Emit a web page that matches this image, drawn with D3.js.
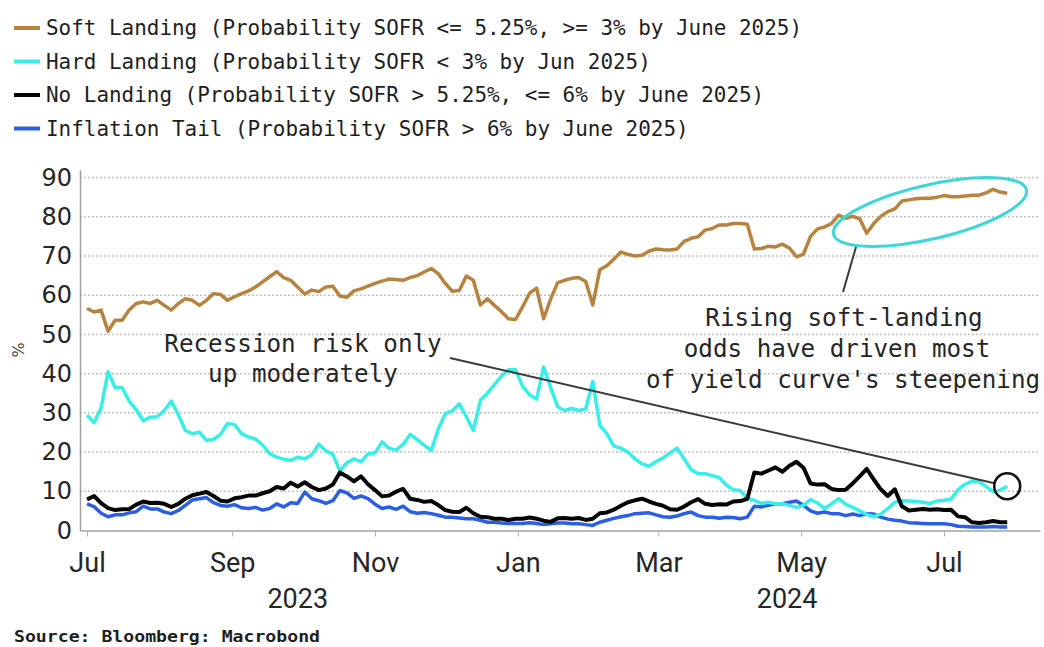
<!DOCTYPE html>
<html>
<head>
<meta charset="utf-8">
<script src="https://cdn.jsdelivr.net/npm/d3@7"></script>
<style>
  body { margin: 0; background: #fff; }
  svg { display: block; }
</style>
</head>
<body>
<svg id="chart" width="1044" height="647"></svg>
<script>
// Observations every 3 calendar days starting 1 Jul 2023 (probabilities, %)
const startDate = new Date(2023, 6, 1);
const stepDays = 3;

const softLanding = [
  56.6, 55.7, 56.2, 50.8, 53.6, 53.6, 56.2, 57.9, 58.3, 57.9,
  58.7, 57.4, 56.2, 57.9, 59.1, 58.7, 57.4, 58.7, 60.4, 60.2,
  58.7, 59.6, 60.4, 61.1, 62.1, 63.4, 64.7, 66.0, 64.5, 63.8,
  62.0, 60.3, 61.3, 60.9, 62.1, 62.3, 59.8, 59.5, 61.1, 61.6,
  62.3, 63.0, 63.6, 64.1, 64.0, 63.8, 64.5, 65.0, 65.9, 66.8,
  65.5, 63.0, 61.0, 61.2, 64.9, 63.8, 57.5, 59.1, 57.4, 55.8,
  54.0, 53.8, 57.0, 60.5, 61.8, 54.0, 59.0, 63.2, 63.8, 64.3,
  64.5, 63.5, 57.5, 66.5, 67.5, 69.2, 71.0, 70.4, 70.0, 70.2,
  71.2, 71.8, 71.6, 71.5, 71.8, 73.7, 74.5, 74.9, 76.6, 77.0,
  77.9, 77.9, 78.3, 78.3, 78.1, 71.8, 71.9, 72.5, 72.3, 73.0,
  72.0, 69.8, 70.5, 75.0, 76.9, 77.4, 78.3, 80.4, 79.6, 80.1,
  79.5, 75.8, 78.3, 80.1, 81.3, 82.0, 84.0, 84.3, 84.6, 84.7,
  84.7, 85.0, 85.4, 85.1, 85.1, 85.3, 85.5, 85.5, 86.1, 87.0,
  86.3, 86.0
];

const hardLanding = [
  29.4, 27.5, 31.3, 40.5, 36.4, 36.4, 33.0, 30.8, 28.0, 28.9,
  29.0, 30.6, 33.0, 29.5, 25.5, 24.7, 25.1, 23.0, 23.2, 24.5,
  27.3, 27.0, 24.7, 23.8, 23.3, 21.8, 19.6, 18.7, 18.2, 17.9,
  18.7, 18.3, 19.3, 22.0, 20.3, 19.4, 15.2, 17.3, 18.3, 17.5,
  19.5, 19.8, 22.6, 21.0, 20.5, 22.0, 24.5, 23.2, 21.8, 20.4,
  25.8, 29.8, 30.5, 32.3, 29.0, 25.5, 33.2, 35.0, 37.2, 39.4,
  41.0, 41.0, 36.8, 34.6, 33.5, 41.7, 36.5, 31.5, 30.6, 31.1,
  30.6, 31.0, 38.0, 26.8, 24.7, 21.5, 21.0, 20.0, 18.3, 17.0,
  16.4, 17.6, 18.5, 19.8, 21.0, 18.3, 15.5, 14.5, 14.5, 14.0,
  13.5, 11.6, 10.4, 10.2, 8.2, 7.7, 6.9, 7.2, 6.8, 6.8,
  6.4, 5.9, 6.4, 7.9, 7.0, 5.6, 6.8, 8.1, 6.7, 5.9,
  5.0, 4.1, 3.5, 4.2, 5.6, 7.2, 7.6, 7.5, 7.4, 7.2,
  6.9, 7.5, 7.7, 8.0, 10.4, 11.8, 12.6, 12.5, 11.2, 9.9,
  10.3, 11.3
];

const noLanding = [
  7.9, 8.8, 7.0, 5.7, 5.2, 5.4, 5.5, 6.6, 7.4, 7.0,
  7.1, 6.8, 6.0, 6.8, 8.1, 9.0, 9.4, 9.8, 8.8, 7.6,
  7.4, 8.2, 8.5, 8.9, 8.9, 9.5, 10.0, 11.1, 10.7, 12.2,
  11.2, 12.3, 11.1, 10.3, 10.7, 11.7, 14.8, 13.8, 12.5, 13.8,
  11.8, 10.3, 8.7, 8.9, 9.9, 10.6, 8.1, 7.8, 7.3, 7.5,
  6.5, 5.2, 4.8, 4.7, 5.8, 4.4, 3.5, 3.4, 3.0, 3.0,
  2.7, 3.0, 3.0, 3.3, 3.0, 2.5, 2.2, 3.1, 3.2, 3.0,
  3.2, 2.7, 3.0, 4.4, 4.6, 5.3, 6.3, 7.2, 7.7, 8.1,
  7.4, 6.8, 6.3, 5.4, 5.3, 6.1, 7.2, 8.0, 6.8, 6.5,
  6.7, 6.6, 7.4, 7.5, 8.1, 14.8, 14.5, 15.3, 16.1, 15.0,
  16.5, 17.5, 16.0, 12.0, 11.7, 11.8, 10.6, 10.3, 10.4, 12.0,
  13.8, 15.7, 13.0, 10.5, 8.8, 10.5, 6.2, 5.1, 5.3, 5.5,
  5.3, 5.4, 5.2, 5.3, 3.6, 3.4, 2.1, 1.9, 2.1, 2.4,
  2.1, 2.1
];

const inflationTail = [
  6.8, 6.1, 4.4, 3.5, 4.0, 4.0, 4.5, 4.8, 6.2, 5.5,
  5.5, 4.7, 4.3, 5.1, 6.4, 7.8, 8.1, 8.4, 7.1, 6.4,
  6.2, 6.6, 5.8, 5.6, 5.9, 5.2, 5.6, 6.8, 6.0, 7.1,
  6.9, 9.8, 8.1, 7.6, 6.9, 7.6, 10.2, 9.6, 8.2, 8.8,
  8.1, 6.7, 5.6, 6.0, 5.4, 6.2, 4.8, 4.4, 4.6, 4.3,
  3.9, 3.4, 3.4, 3.2, 3.0, 3.0, 2.6, 2.1, 2.1, 1.9,
  1.8, 1.8, 1.8, 2.0, 1.8, 1.5, 1.7, 1.9, 1.9, 1.7,
  1.7, 1.5, 1.3, 2.1, 2.6, 3.1, 3.5, 3.8, 4.3, 4.4,
  4.5, 4.0, 3.5, 3.4, 3.7, 4.3, 4.7, 3.8, 3.4, 3.4,
  3.1, 3.4, 3.3, 3.0, 3.4, 6.2, 6.0, 6.4, 6.8, 6.8,
  7.2, 7.5, 6.4, 5.0, 4.4, 4.7, 4.3, 4.3, 3.8, 4.2,
  3.8, 4.3, 4.2, 3.4, 2.9, 2.6, 2.4, 2.0, 1.9, 1.8,
  1.7, 1.7, 1.7, 1.5, 1.1, 1.0, 0.9, 0.9, 0.9, 1.0,
  0.9, 0.9
];

const legendLabels = [
  "Soft Landing (Probability SOFR <= 5.25%, >= 3% by June 2025)",
  "Hard Landing (Probability SOFR < 3% by Jun 2025)",
  "No Landing (Probability SOFR > 5.25%, <= 6% by June 2025)",
  "Inflation Tail (Probability SOFR > 6% by June 2025)"
];
const seriesColors = ["#b8833f", "#3aeee8", "#050505", "#2b5fe3"];

const yTicks = [0, 10, 20, 30, 40, 50, 60, 70, 80, 90];
const monthTicks = ["2023-07-01", "2023-09-01", "2023-11-01", "2024-01-01",
                    "2024-03-01", "2024-05-01", "2024-07-01"];
const yearLabels = ["2023", "2024"];
const yearLabelDates = ["2023-09-29", "2024-04-25"];

const series = [softLanding, hardLanding, noLanding, inflationTail];
const dates = softLanding.map((_, i) => d3.timeDay.offset(startDate, i * stepDays));
const parse = d3.utcParse("%Y-%m-%d");
const toLocal = s => { const d = parse(s); return new Date(d.getUTCFullYear(), d.getUTCMonth(), d.getUTCDate()); };

const svg = d3.select("#chart");
svg.append("rect").attr("width", 1044).attr("height", 647).attr("fill", "#fff");

const x = d3.scaleTime()
  .domain([new Date(2023, 5, 28), new Date(2024, 7, 11)])
  .range([80, 1040]);
const y = d3.scaleLinear().domain([0, 92]).range([530.5, 169.7]);

// dotted horizontal gridlines
svg.append("g").selectAll("line")
  .data(yTicks.filter(t => t > 0))
  .join("line")
  .attr("x1", 80).attr("x2", 1040)
  .attr("y1", d => y(d)).attr("y2", d => y(d))
  .attr("stroke", "#c2c2c2").attr("stroke-width", 1.5)
  .attr("stroke-dasharray", "2,2");

// y axis
const yAxis = svg.append("g").attr("transform", "translate(80,0)")
  .call(d3.axisLeft(y).tickValues(yTicks).tickSize(0).tickPadding(8));
yAxis.select(".domain").attr("stroke", "#a0a0a0").attr("stroke-width", 1.5);
yAxis.selectAll("text")
  .attr("font-family", "DejaVu Sans, sans-serif")
  .attr("font-size", 24).attr("fill", "#262626");

svg.append("text")
  .attr("transform", "translate(24,350) rotate(-90)")
  .attr("text-anchor", "middle")
  .attr("font-family", "DejaVu Sans, sans-serif")
  .attr("font-size", 16).attr("fill", "#444")
  .text("%");

// x axis
const xAxis = svg.append("g").attr("transform", `translate(0,${y(0)})`)
  .call(d3.axisBottom(x)
    .tickValues(monthTicks.map(toLocal))
    .tickFormat(d3.timeFormat("%b"))
    .tickSizeInner(6).tickSizeOuter(0).tickPadding(16));
xAxis.select(".domain").attr("stroke", "#a0a0a0").attr("stroke-width", 1.5);
xAxis.selectAll(".tick line").attr("stroke", "#b0b0b0");
xAxis.selectAll("text")
  .attr("font-family", "Roboto, sans-serif")
  .attr("font-size", 27).attr("fill", "#262626");

svg.append("g").selectAll("text")
  .data(yearLabels)
  .join("text")
  .attr("x", (d, i) => x(toLocal(yearLabelDates[i])))
  .attr("y", 608)
  .attr("text-anchor", "middle")
  .attr("font-family", "Roboto, sans-serif")
  .attr("font-size", 27).attr("fill", "#262626")
  .text(d => d);

// series lines (inflation tail first so soft landing sits on top)
const line = d3.line()
  .x((d, i) => x(dates[i]))
  .y(d => y(d));
const drawOrder = [3, 1, 2, 0];
const widths = [3.5, 3.5, 4, 3.5];
svg.append("g").selectAll("path")
  .data(drawOrder)
  .join("path")
  .attr("d", k => line(series[k]))
  .attr("fill", "none")
  .attr("stroke", k => seriesColors[k])
  .attr("stroke-width", k => widths[k])
  .attr("stroke-linejoin", "round");

// legend
const legend = svg.append("g");
const legendBaselines = [35, 68.5, 102, 135.5];
legendLabels.forEach((label, i) => {
  legend.append("line")
    .attr("x1", 14).attr("x2", 40)
    .attr("y1", legendBaselines[i] - 7).attr("y2", legendBaselines[i] - 7)
    .attr("stroke", seriesColors[i]).attr("stroke-width", 4);
  legend.append("text")
    .attr("x", 46).attr("y", legendBaselines[i])
    .attr("font-family", "DejaVu Sans Mono, monospace")
    .attr("font-size", 21).attr("fill", "#1e1e1e")
    .attr("textLength", label.length * 12.6)
    .attr("lengthAdjust", "spacingAndGlyphs")
    .text(label);
});

// annotations
const note = svg.append("g")
  .attr("font-family", "DejaVu Sans Mono, monospace")
  .attr("font-size", 24.3).attr("fill", "#262626")
  .attr("text-anchor", "middle");
[["Recession risk only", 303, 352], ["up moderately", 303, 382],
 ["Rising soft-landing", 844, 326], ["odds have driven most", 837, 357],
 ["of yield curve's steepening", 843, 388]].forEach(([t, cx, cy]) => {
  note.append("text").attr("x", cx).attr("y", cy)
    .attr("textLength", t.length * 14.6).attr("lengthAdjust", "spacingAndGlyphs")
    .text(t);
});

// circle on the latest hard-landing reading, with leader line
const lastIdx = hardLanding.length - 1;
const cx = x(dates[lastIdx]), cy = y(hardLanding[lastIdx]);
const r = 13;
const sx = 450, sy = 358;
const ang = Math.atan2(cy - sy, cx - sx);
svg.append("line")
  .attr("x1", sx).attr("y1", sy)
  .attr("x2", cx - r * Math.cos(ang)).attr("y2", cy - r * Math.sin(ang))
  .attr("stroke", "#3a3a3a").attr("stroke-width", 2);
svg.append("circle")
  .attr("cx", cx).attr("cy", cy).attr("r", r)
  .attr("fill", "none").attr("stroke", "#111").attr("stroke-width", 2.5);

// ellipse around the recent soft-landing climb
svg.append("ellipse")
  .attr("cx", 0).attr("cy", 0).attr("rx", 99).attr("ry", 27)
  .attr("transform", "translate(930,212) rotate(-13)")
  .attr("fill", "none").attr("stroke", "#3fd6d8").attr("stroke-width", 3);
svg.append("line")
  .attr("x1", 856).attr("y1", 247).attr("x2", 843).attr("y2", 292)
  .attr("stroke", "#3a3a3a").attr("stroke-width", 2);

// source
svg.append("text")
  .attr("x", 14).attr("y", 642)
  .attr("font-family", "DejaVu Sans Mono, monospace")
  .attr("font-weight", "bold")
  .attr("font-size", 16).attr("fill", "#1e1e1e")
  .attr("textLength", 306).attr("lengthAdjust", "spacingAndGlyphs")
  .text("Source: Bloomberg: Macrobond");
</script>
</body>
</html>
